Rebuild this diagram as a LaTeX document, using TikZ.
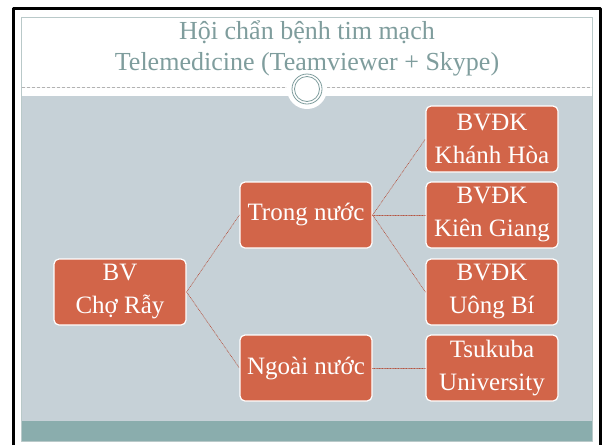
\documentclass[tikz,border=0pt]{standalone}
\usepackage{fontspec}
\setmainfont{Liberation Serif}
\definecolor{boxred}{HTML}{D26549}
\definecolor{slidegrey}{HTML}{C6D1D7}
\definecolor{bandteal}{HTML}{8AADAD}
\definecolor{titleteal}{HTML}{7F9D9D}
\definecolor{linkred}{HTML}{B5533F}
\tikzset{
  unit/.style={draw=white, line width=1.2pt, fill=boxred, text=white,
    rounded corners=5pt, minimum width=132pt, minimum height=66pt,
    align=center, inner sep=2pt, font=\fontsize{25}{33}\selectfont},
  link/.style={linkred, densely dotted, line width=0.6pt},
  headline/.style={text=titleteal, anchor=base, font=\fontsize{26}{32}\selectfont}
}
\begin{document}
\begin{tikzpicture}[x=1pt,y=-1pt,line cap=round,line join=round]
  \useasboundingbox (0,0) rectangle (602,445);
  % slide
  \fill[white] (0,0) rectangle (602,445);
  \fill[slidegrey] (21,96) rectangle (593,421);
  \fill[bandteal] (21,421) rectangle (593,441);
  \draw[titleteal!55, line width=0.8pt] (21.5,17.5) rectangle (592.5,441);
  \draw[line width=3pt, line cap=butt] (13.5,445) -- (13.5,8.5) -- (600.5,8.5) -- (600.5,445);

  % ornament
  \draw[gray!60, densely dashed, line width=0.4pt] (22,87) -- (592,87);
  \fill[white] (307,89) circle (20pt);
  \draw[titleteal, line width=0.8pt] (307,89) circle (15pt) (307,89) circle (12.5pt);

  \node[headline] (titleA) at (307,39) {Hội chẩn bệnh tim mạch};
  \node[headline] (titleB) at (307,70) {Telemedicine (Teamviewer + Skype)};

  \node[unit] (cho)   at (120,292) {BV\\Chợ Rẫy};
  \node[unit] (trong) at (306,215) {Trong nước};
  \node[unit] (ngoai) at (306,368) {Ngoài nước};
  \node[unit] (khanh) at (492,139) {BVĐK\\Khánh Hòa};
  \node[unit] (kien)  at (492,215) {BVĐK\\Kiên Giang};
  \node[unit] (uong)  at (492,292) {BVĐK\\Uông Bí};
  \node[unit] (tsu)   at (492,368) {Tsukuba\\University};

  \foreach \a/\b in {cho/trong, cho/ngoai, trong/khanh, trong/kien, trong/uong, ngoai/tsu}
    \draw[link] (\a.east) -- (\b.west);
\end{tikzpicture}
\end{document}
